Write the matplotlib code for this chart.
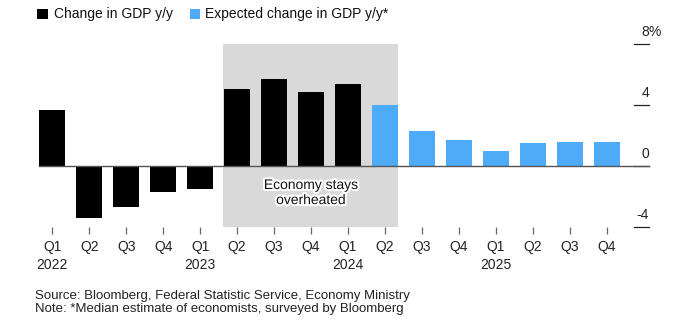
import matplotlib
matplotlib.use('Agg')
import matplotlib.pyplot as plt
import matplotlib.patheffects as pe
from matplotlib.patches import Rectangle

# Data
quarters = ['Q1', 'Q2', 'Q3', 'Q4', 'Q1', 'Q2', 'Q3', 'Q4',
            'Q1', 'Q2', 'Q3', 'Q4', 'Q1', 'Q2', 'Q3', 'Q4']
years = ['2022', '', '', '', '2023', '', '', '',
         '2024', '', '', '', '2025', '', '', '']
actual = [3.7, -3.4, -2.7, -1.7, -1.5, 5.1, 5.7, 4.9, 5.4]
expected = [4.0, 2.3, 1.7, 1.0, 1.5, 1.6, 1.6]
yticks = [-4, 0, 4, 8]

BLACK = '#000000'
BLUE = '#4dabf7'
SHADE = '#d9d9d9'

plt.rcParams['font.family'] = ['Liberation Sans', 'DejaVu Sans']

fig = plt.figure(figsize=(7, 3.27), dpi=100)
ax = fig.add_axes([0.0429, 0.3049, 0.9, 0.634])
ax.set_xlim(-0.603, 16.44)
ax.set_ylim(-4, 9.6)

x_act = list(range(len(actual)))
x_exp = list(range(len(actual), len(actual) + len(expected)))
bw = 0.695

# Shaded period: Q2 2023 to Q2 2024
ax.add_patch(Rectangle((5 - bw / 2 - 0.03, -4), 4 + bw + 0.03, 12,
                       facecolor=SHADE, edgecolor='none', zorder=0))

ax.bar(x_act, actual, width=bw, color=BLACK, zorder=2)
ax.bar(x_exp, expected, width=bw, color=BLUE, zorder=2)

# Zero line
ax.plot([-bw / 2, 16.14], [0, 0], color='#555555', lw=1.0, zorder=3,
        clip_on=False)

# Right-side y ticks
for v in yticks:
    ax.plot([15.74, 16.14], [v, v], color='#222222', lw=0.9, clip_on=False)
    lab = str(v)
    ax.text(16.14, v + 0.35, lab, ha='right', va='bottom', fontsize=10,
            color='#222222')
    if v == 8:
        ax.text(16.14, v + 0.35, '%', ha='left', va='bottom', fontsize=10,
                color='#222222')

# X ticks
labels = [q + '\n' + y for q, y in zip(quarters, years)]
ax.set_xticks(range(len(quarters)))
ax.set_xticklabels(labels, fontsize=10, linespacing=1.35, color='#222222')
ax.tick_params(axis='x', length=5, width=0.9, color='#666666', pad=4)
ax.tick_params(axis='y', left=False, labelleft=False)
for s in ax.spines.values():
    s.set_visible(False)

# Annotation
ax.text(7.0, -1.72, 'Economy stays\noverheated', ha='center', va='center',
        fontsize=10, linespacing=1.1, color='#111111', zorder=4,
        path_effects=[pe.withStroke(linewidth=3, foreground='white')])

# Legend
fig.patches.append(Rectangle((37 / 700, 1 - 19 / 327), 11 / 700, 10 / 327,
                             transform=fig.transFigure, facecolor=BLACK,
                             edgecolor='none'))
fig.text(54 / 700, 1 - 14 / 327, 'Change in GDP y/y', ha='left',
         va='center', fontsize=10, color='#111111')
fig.patches.append(Rectangle((190 / 700, 1 - 19 / 327), 10 / 700, 10 / 327,
                             transform=fig.transFigure, facecolor=BLUE,
                             edgecolor='none'))
fig.text(205 / 700, 1 - 14 / 327, 'Expected change in GDP y/y*', ha='left',
         va='center', fontsize=10, color='#111111')

# Footer
fig.text(35 / 700, 1 - 296 / 327,
         'Source: Bloomberg, Federal Statistic Service, Economy Ministry',
         ha='left', va='center', fontsize=9.5, color='#222222')
fig.text(35 / 700, 1 - 309 / 327,
         'Note: *Median estimate of economists, surveyed by Bloomberg',
         ha='left', va='center', fontsize=9.5, color='#222222')

fig.savefig('out.png', dpi=100)
